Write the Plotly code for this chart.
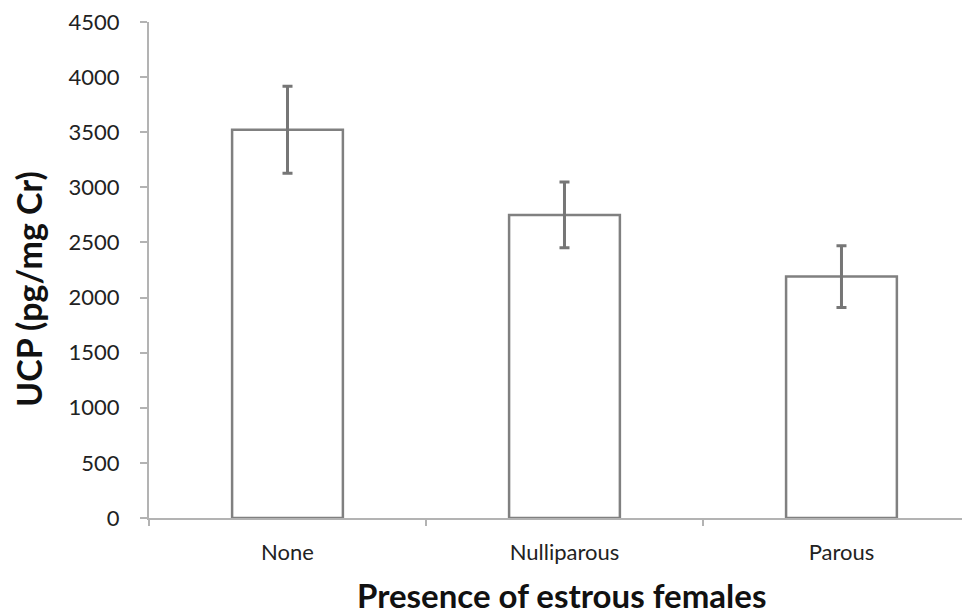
import plotly.graph_objects as go

categories = ["None", "Nulliparous", "Parous"]
ucp_means = [3523, 2750, 2190]
ucp_errors = [395, 299, 280]
y_ticks = [0, 500, 1000, 1500, 2000, 2500, 3000, 3500, 4000, 4500]
x_title = "Presence of estrous females"
y_title = "UCP (pg/mg Cr)"

fig = go.Figure()
fig.add_trace(go.Bar(
    x=categories,
    y=ucp_means,
    width=0.4,
    marker=dict(color="white", line=dict(color="#808080", width=2.5)),
    error_y=dict(type="data", array=ucp_errors, visible=True,
                 color="#767676", thickness=3, width=5),
    showlegend=False,
))

font_family = "Lato, 'Open Sans', sans-serif"
axis_color = "#b3b3b3"
fig.update_layout(
    width=962, height=606,
    margin=dict(l=141, r=0, t=11, b=96),
    paper_bgcolor="white", plot_bgcolor="white",
    font=dict(family=font_family, color="#222222", size=22),
    xaxis=dict(
        type="category",
        range=[-0.5, 2.464],
        showline=True, linecolor=axis_color, linewidth=2,
        ticks="outside", tickson="boundaries", ticklen=6, tickcolor=axis_color,
        tickwidth=2,
        tickfont=dict(size=22, color="#222222"),
        ticklabelstandoff=14,
        showgrid=False, zeroline=False,
    ),
    yaxis=dict(
        range=[0, 4500],
        tickvals=y_ticks,
        showline=True, linecolor=axis_color, linewidth=2,
        ticks="outside", ticklen=7, tickcolor=axis_color, tickwidth=2,
        tickfont=dict(size=22, color="#222222"),
        ticklabelstandoff=16,
        ticklabeloverflow="allow",
        showgrid=False, zeroline=False,
    ),
    annotations=[
        dict(text="<b>" + x_title + "</b>", xref="paper", yref="paper",
             x=0.503, y=-0.155, xanchor="center", yanchor="middle",
             showarrow=False, font=dict(size=33, color="#111111")),
        dict(text="<b>" + y_title + "</b>", xref="paper", yref="paper",
             x=-0.146, y=0.462, xanchor="center", yanchor="middle",
             textangle=-90, showarrow=False,
             font=dict(size=34, color="#111111")),
    ],
)

fig.write_html("out.html")
